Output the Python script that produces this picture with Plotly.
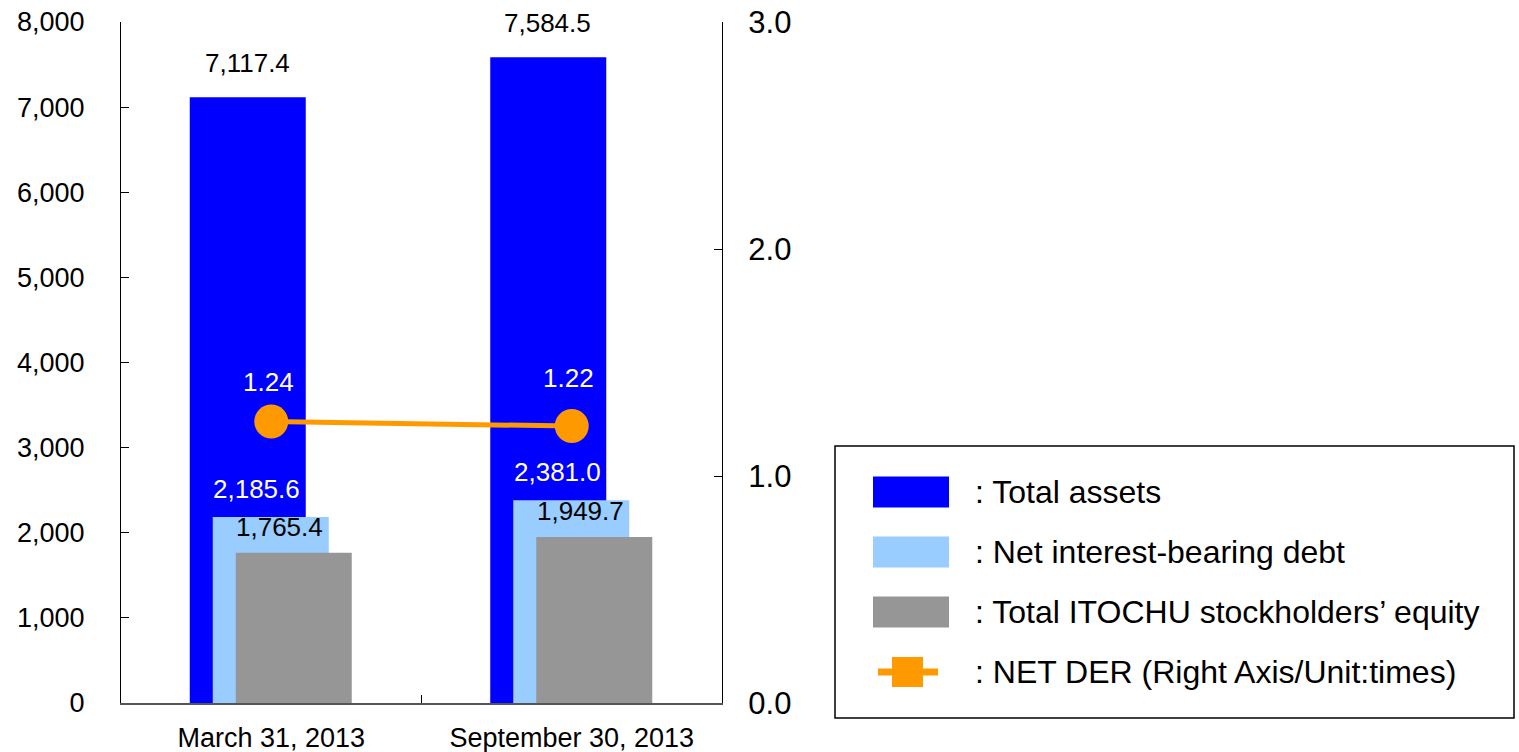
import plotly.graph_objects as go

categories = ["March 31, 2013", "September 30, 2013"]
total_assets = [7117.4, 7584.5]
net_debt = [2185.6, 2381.0]
equity = [1765.4, 1949.7]
net_der = [1.24, 1.22]
left_ticks = [0, 1000, 2000, 3000, 4000, 5000, 6000, 7000, 8000]
right_ticks = [0.0, 1.0, 2.0, 3.0]
legend_labels = [": Total assets", ": Net interest-bearing debt",
                 ": Total ITOCHU stockholders\u2019 equity",
                 ": NET DER (Right Axis/Unit:times)"]

BLUE = "#0000FF"
LBLUE = "#99CCFF"
GRAY = "#969696"
ORANGE = "#FF9900"
FONT = "Arial, Liberation Sans, sans-serif"

# layout geometry (pixels)
W, H = 1519, 752
L, R, T, B = 121, 722, 22, 703
PW, PH = R - L, B - T
CAT_PX = PW / len(categories)
BAR_W = 116 / CAT_PX
OFFS = [-81.5 / CAT_PX, -58.5 / CAT_PX, -35.5 / CAT_PX]
DER_LABEL_SHIFT = [40, 48]


def px_x(p):
    return (p - L) / PW


def px_y(p):
    return (B - p) / PH


fig = go.Figure()
for vals, col, off in [(total_assets, BLUE, OFFS[0]), (net_debt, LBLUE, OFFS[1]), (equity, GRAY, OFFS[2])]:
    fig.add_trace(go.Bar(x=categories, y=vals, marker=dict(color=col, line=dict(width=0)),
                         width=BAR_W, offset=off, showlegend=False, hoverinfo="x+y"))

fig.add_trace(go.Scatter(x=categories, y=net_der, yaxis="y2", mode="lines+markers",
                         line=dict(color=ORANGE, width=5),
                         marker=dict(size=34, color=ORANGE, line=dict(width=0)),
                         showlegend=False, cliponaxis=False))

ann = []
for i, c in enumerate(categories):
    ann.append(dict(x=c, y=total_assets[i], xref="x", yref="y", text=f"{total_assets[i]:,.1f}",
                    showarrow=False, xanchor="center", yanchor="bottom", xshift=-24, yshift=17,
                    font=dict(family=FONT, size=26, color="black")))
    ann.append(dict(x=c, y=net_debt[i], xref="x", yref="y", text=f"{net_debt[i]:,.1f}",
                    showarrow=False, xanchor="left", yanchor="bottom", xshift=-60, yshift=11,
                    font=dict(family=FONT, size=26, color="white")))
    ann.append(dict(x=c, y=equity[i], xref="x", yref="y", text=f"{equity[i]:,.1f}",
                    showarrow=False, xanchor="left", yanchor="bottom", xshift=-37, yshift=9,
                    font=dict(family=FONT, size=26, color="black")))
    ann.append(dict(x=c, y=net_der[i], xref="x", yref="y2", text=f"{net_der[i]:.2f}",
                    showarrow=False, xanchor="center", yanchor="middle", xshift=-3,
                    yshift=DER_LABEL_SHIFT[i],
                    font=dict(family=FONT, size=26, color="white")))

shapes = []
# legend box
shapes.append(dict(type="rect", xref="paper", yref="paper", x0=px_x(835), x1=px_x(1514),
                   y0=px_y(718), y1=px_y(446), line=dict(color="black", width=1.5), fillcolor="white"))
centers = [492, 552, 612, 672]
for col, cy in zip([BLUE, LBLUE, GRAY], centers[:3]):
    shapes.append(dict(type="rect", xref="paper", yref="paper", x0=px_x(873), x1=px_x(949),
                       y0=px_y(cy + 15.5), y1=px_y(cy - 15.5), line=dict(width=0), fillcolor=col))
cy = centers[3]
shapes.append(dict(type="rect", xref="paper", yref="paper", x0=px_x(878), x1=px_x(938),
                   y0=px_y(cy + 3.5), y1=px_y(cy - 3.5), line=dict(width=0), fillcolor=ORANGE))
shapes.append(dict(type="rect", xref="paper", yref="paper", x0=px_x(892), x1=px_x(923),
                   y0=px_y(cy + 15), y1=px_y(cy - 15), line=dict(width=0), fillcolor=ORANGE))
for lab, cy in zip(legend_labels, centers):
    ann.append(dict(x=px_x(973), y=px_y(cy), xref="paper", yref="paper", text=lab,
                    showarrow=False, xanchor="left", yanchor="middle",
                    font=dict(family=FONT, size=32, color="black")))

fig.update_layout(
    width=W, height=H,
    autosize=False,
    margin=dict(l=L, r=W - R, t=T, b=H - B, pad=0, autoexpand=False),
    paper_bgcolor="white", plot_bgcolor="white",
    barmode="overlay",
    showlegend=False,
    annotations=ann,
    shapes=shapes,
    xaxis=dict(type="category", categoryorder="array", categoryarray=categories,
               range=[-0.5, len(categories) - 0.5], showline=True, linecolor="#555555", linewidth=1.5,
               ticks="inside", tickson="boundaries", ticklen=8, tickcolor="black",
               showgrid=False, zeroline=False, automargin=False, ticklabelstandoff=10,
               tickfont=dict(family=FONT, size=27, color="black")),
    yaxis=dict(range=[0, 8000], tickvals=left_ticks, tickformat=",", showline=True,
               linecolor="black", linewidth=1.2, ticks="inside", ticklen=8, tickcolor="black",
               showgrid=False, zeroline=False, ticklabelstandoff=30, automargin=False,
               tickfont=dict(family=FONT, size=27, color="black")),
    yaxis2=dict(range=[0, 3], tickvals=right_ticks, tickformat=".1f", overlaying="y", side="right",
                showline=True, linecolor="black", linewidth=1.2, ticks="inside", ticklen=8,
                tickcolor="black", showgrid=False, zeroline=False, ticklabelstandoff=19,
                automargin=False, tickfont=dict(family=FONT, size=31, color="black")),
)

fig.write_html("out.html", config={"responsive": False, "displayModeBar": False},
               post_script="document.body.style.margin='0';document.body.style.overflow='hidden';")
